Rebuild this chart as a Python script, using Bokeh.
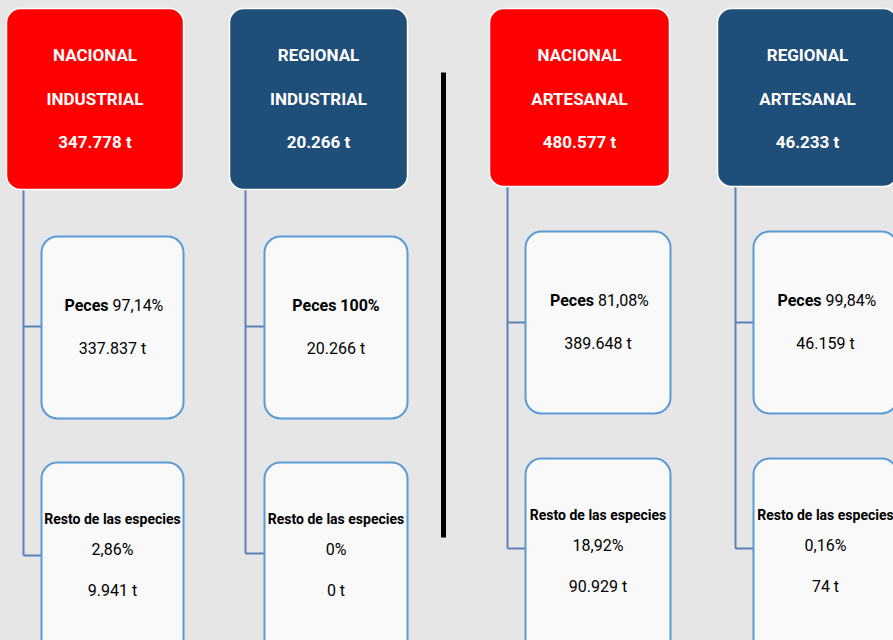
from bokeh.plotting import figure
from bokeh.models import ColumnDataSource, Range1d, GlobalInlineStyleSheet
from bokeh.core.properties import value
from bokeh.embed import file_html
from bokeh.resources import INLINE

# ---- data ----
sector = ["NACIONAL", "REGIONAL", "NACIONAL", "REGIONAL"]
tipo = ["INDUSTRIAL", "INDUSTRIAL", "ARTESANAL", "ARTESANAL"]
total = ["347.778 t", "20.266 t", "480.577 t", "46.233 t"]
peces_pct = ["97,14%", "100%", "81,08%", "99,84%"]
peces_t = ["337.837 t", "20.266 t", "389.648 t", "46.159 t"]
resto_pct = ["2,86%", "0%", "18,92%", "0,16%"]
resto_t = ["9.941 t", "0 t", "90.929 t", "74 t"]

# ---- layout (pixel coordinates of the page) ----
head_l = [6, 229, 489, 717]
head_r = [183, 407, 669, 897]
head_t = [8, 8, 8, 8]
head_b = [189, 189, 186, 186]
head_col = ["#ff0000", "#1f4e79", "#ff0000", "#1f4e79"]
box_l = [41, 264, 525, 753]
box_r = [183, 407, 670, 897]
b1_t = [236, 236, 231, 231]
b1_b = [418, 418, 413, 413]
b2_t = [462, 462, 458, 458]
b2_b = [680, 680, 680, 680]
vx = [23, 245, 507, 735]
h1y = [326, 326, 322, 322]
h2y = [555, 553, 548, 548]
FONT = "Roboto"

hcx = [(a + b) / 2 for a, b in zip(head_l, head_r)]
bcx = [(a + b) / 2 for a, b in zip(box_l, box_r)]
bcx[3] = 825

W, H = 893, 640
p = figure(width=W, height=H, x_range=Range1d(0, W), y_range=Range1d(H, 0),
           output_backend="svg", toolbar_location=None, min_border=0)
p.axis.visible = False
p.grid.visible = False
p.outline_line_color = None
p.background_fill_color = "#e6e6e6"
p.border_fill_color = "#e6e6e6"
p.stylesheets = [GlobalInlineStyleSheet(css="body{background:#e6e6e6;}")]

# connectors
p.segment(x0=vx, y0=head_b, x1=vx, y1=h2y, line_color="#5b82b8", line_width=2)
p.segment(x0=vx, y0=h1y, x1=box_l, y1=h1y, line_color="#5b82b8", line_width=2)
p.segment(x0=vx, y0=h2y, x1=box_l, y1=h2y, line_color="#5b82b8", line_width=2)

# divider
p.segment(x0=[443], y0=[72], x1=[443], y1=[537], line_color="black", line_width=5)

# header boxes
p.quad(left=head_l, right=head_r, top=head_t, bottom=head_b, fill_color=head_col,
       line_color="white", line_width=1.5, border_radius=14)
# child boxes
p.quad(left=box_l, right=box_r, top=b1_t, bottom=b1_b, fill_color="#f9f9f9",
       line_color="#5b9bd5", line_width=2, border_radius=16)
p.quad(left=box_l, right=box_r, top=b2_t, bottom=b2_b, fill_color="#f9f9f9",
       line_color="#5b9bd5", line_width=2, border_radius=16)

# header text
hy1 = [54, 54, 54, 54]
hy2 = [98, 98, 98, 98]
hy3 = [141, 141, 141, 141]
for ys, txt in [(hy1, sector), (hy2, tipo), (hy3, total)]:
    p.text(x=hcx, y=ys, text=txt, text_color="white", text_font=value(FONT),
           text_font_style="bold", text_font_size="17px", text_align="center",
           text_baseline="middle")

FS = "16px"
# peces line
py = [b + 69 for b in b1_t]
py2 = [b + 112 for b in b1_t]
split = [c - 4 for c in bcx]
ptxt = [("Peces " + v) if v == "100%" else "Peces" for v in peces_pct]
pcx = [c if v == "100%" else s for c, s, v in zip(bcx, split, peces_pct)]
palign = ["center" if v == "100%" else "right" for v in peces_pct]
src_p = ColumnDataSource(dict(x=pcx, y=py, t=ptxt, a=palign))
p.text(x="x", y="y", text="t", text_align="a", source=src_p, text_font=value(FONT),
       text_font_style="bold", text_font_size=FS, text_baseline="middle", text_color="black")
pv = [v for v in peces_pct if v != "100%"]
pvx = [s + 4 for s, v in zip(split, peces_pct) if v != "100%"]
pvy = [y for y, v in zip(py, peces_pct) if v != "100%"]
p.text(x=pvx, y=pvy, text=pv, text_align="left", text_font=value(FONT),
       text_font_size=FS, text_baseline="middle", text_color="black")
p.text(x=bcx, y=py2, text=peces_t, text_align="center", text_font=value(FONT),
       text_font_size=FS, text_baseline="middle", text_color="black")

# resto lines
ry1 = [t + 56 for t in b2_t]
ry2 = [t + 87 for t in b2_t]
ry3 = [t + 128 for t in b2_t]
p.text(x=bcx, y=ry1, text=["Resto de las especies"] * 4, text_align="center",
       text_font=value(FONT), text_font_style="bold", text_font_size="14px",
       text_baseline="middle", text_color="black")
p.text(x=bcx, y=ry2, text=resto_pct, text_align="center", text_font=value(FONT),
       text_font_size=FS, text_baseline="middle", text_color="black")
p.text(x=bcx, y=ry3, text=resto_t, text_align="center", text_font=value(FONT),
       text_font_size=FS, text_baseline="middle", text_color="black")

open("out.html", "w").write(file_html(p, INLINE))
